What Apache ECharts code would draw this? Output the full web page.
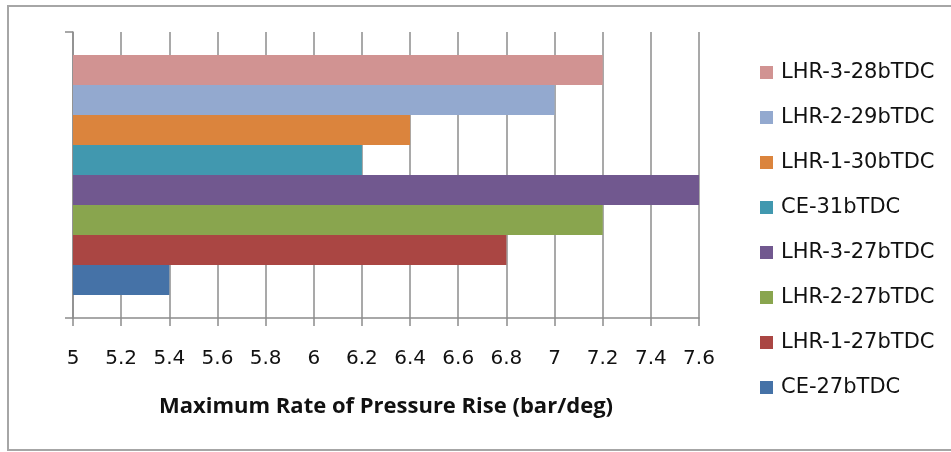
<!DOCTYPE html>
<html>
<head>
<meta charset="utf-8">
<script src="https://cdn.jsdelivr.net/npm/echarts@6/dist/echarts.min.js"></script>
<style>
  html, body { margin: 0; padding: 0; background: #fff; }
  #chart { width: 951px; height: 452px; }
</style>
</head>
<body>
<div id="chart"></div>
<script>
// series names, top to bottom as drawn (same order as the legend)
var seriesNames = ['LHR-3-28bTDC', 'LHR-2-29bTDC', 'LHR-1-30bTDC', 'CE-31bTDC',
                   'LHR-3-27bTDC', 'LHR-2-27bTDC', 'LHR-1-27bTDC', 'CE-27bTDC'];
var seriesValues = [7.2, 7.0, 6.4, 6.2, 7.6, 7.2, 6.8, 5.4];
var seriesColors = ['#D19392', '#93A9CF', '#DB843D', '#4198AF',
                    '#71588F', '#89A54E', '#AA4643', '#4572A7'];
var categories = [''];
var xTitle = 'Maximum Rate of Pressure Rise (bar/deg)';

var myChart = echarts.init(document.getElementById('chart'));

var series = [];
for (var i = 0; i < seriesNames.length; i++) {
    series.push({
        name: seriesNames[i],
        type: 'bar',
        barGap: '0%',
        barCategoryGap: '16%',
        itemStyle: { color: seriesColors[i] },
        data: [seriesValues[i]]
    });
}

var option = {
    animation: false,
    backgroundColor: '#fff',
    graphic: [{
        type: 'rect',
        shape: { x: 8, y: 6, width: 950, height: 444 },
        style: { fill: 'none', stroke: '#a6a6a6', lineWidth: 2 },
        z: -1
    }],
    legend: {
        orient: 'vertical',
        left: 760,
        top: 62,
        padding: 0,
        itemWidth: 13,
        itemHeight: 13,
        itemGap: 24,
        icon: 'rect',
        data: seriesNames,
        textStyle: { fontFamily: 'DejaVu Sans', fontSize: 21, color: '#111', padding: [0, 0, 0, 3] }
    },
    grid: { left: 73, top: 32, width: 626, height: 286, containLabel: false },
    xAxis: {
        type: 'value',
        min: 5,
        max: 7.6,
        interval: 0.2,
        name: xTitle,
        nameLocation: 'middle',
        nameGap: 78,
        nameTextStyle: { fontFamily: 'Open Sans', fontWeight: 'bold', fontSize: 22, color: '#111' },
        axisLine: { show: true, lineStyle: { color: '#8c8c8c', width: 1.5 } },
        axisTick: { show: true, length: 8, lineStyle: { color: '#8c8c8c', width: 1.5 } },
        axisLabel: {
            margin: 31,
            fontFamily: 'DejaVu Sans',
            fontSize: 20,
            color: '#111',
            formatter: function (v) { return String(Math.round(v * 10) / 10); }
        },
        splitLine: { show: true, lineStyle: { color: '#8c8c8c', width: 1.5 } }
    },
    yAxis: {
        type: 'category',
        data: categories,
        axisLine: { show: true, lineStyle: { color: '#8c8c8c', width: 1.5 } },
        axisTick: { show: true, length: 8, lineStyle: { color: '#8c8c8c', width: 1.5 } },
        axisLabel: { show: false },
        splitLine: { show: false }
    },
    series: series
};

myChart.setOption(option);
</script>
</body>
</html>
